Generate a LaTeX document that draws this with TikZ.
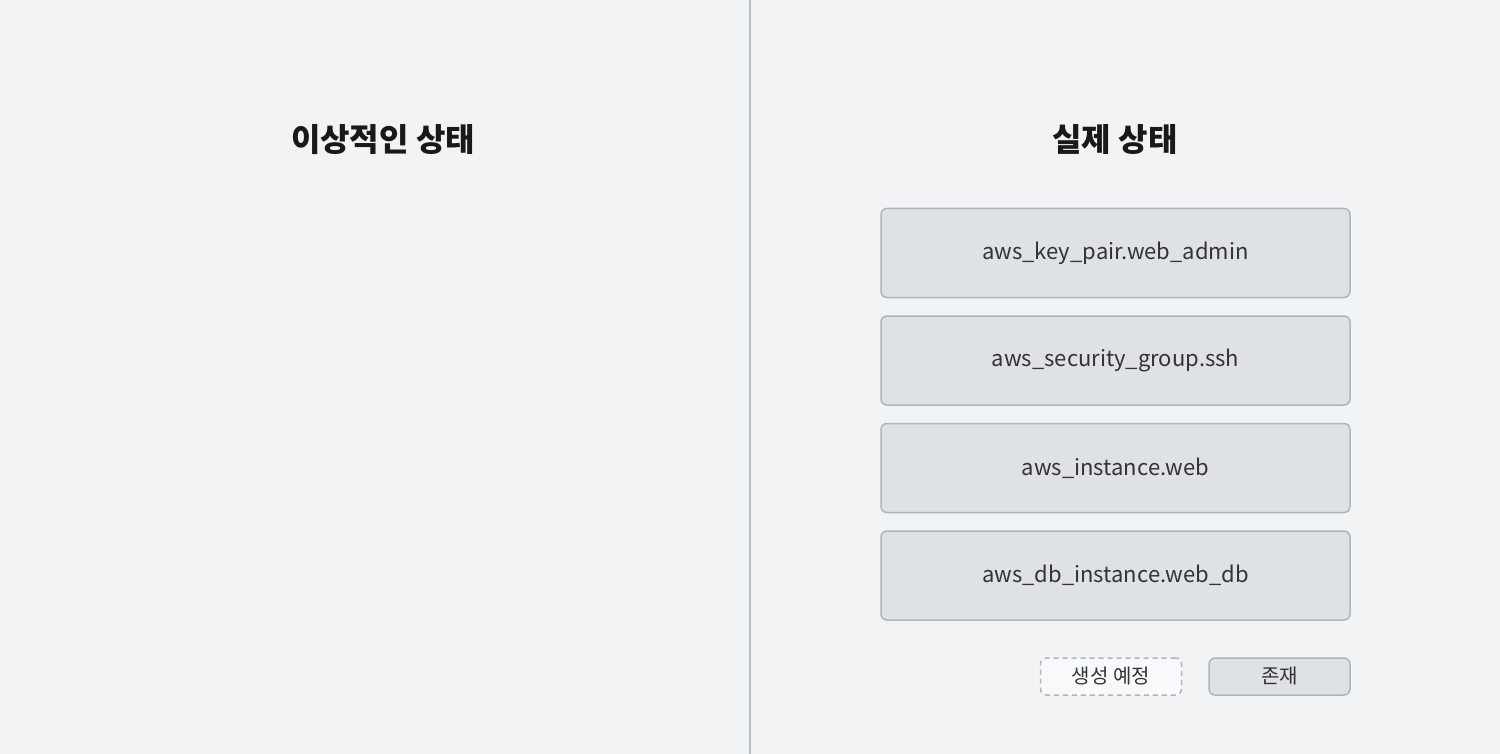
\documentclass[tikz,border=0pt]{standalone}
\usepackage{fontspec}
\setmainfont{Noto Sans CJK KR}
\usepackage{xcolor}
\usetikzlibrary{positioning}

\definecolor{bgcol}{HTML}{F2F3F5}
\definecolor{divcol}{HTML}{B5BCC4}
\definecolor{boxfill}{HTML}{DEE1E5}
\definecolor{boxline}{HTML}{AEB5BD}
\definecolor{planfill}{HTML}{F8F9FA}
\definecolor{txtcol}{HTML}{333333}

\tikzset{
  resbox/.style={draw=boxline, fill=boxfill, line width=1.5pt, rounded corners=6pt,
    minimum width=469pt, minimum height=89pt, inner sep=0pt, text=txtcol,
    font=\fontsize{22}{26}\selectfont},
  legbox/.style={draw=boxline, fill=boxfill, line width=1.5pt, rounded corners=6pt,
    minimum width=141pt, minimum height=37pt, inner sep=0pt, text=txtcol,
    font=\fontsize{20}{24}\selectfont},
  titletext/.style={font=\bfseries\fontsize{32}{38}\selectfont, text=black!90}
}

\begin{document}
\begin{tikzpicture}[x=1pt, y=-1pt]
\fill [bgcol] (0, 0) rectangle (1500, 754);
\useasboundingbox (0, 0) rectangle (1500, 754);
\draw [divcol, line width=2pt] (750, 0) -- (750, 754);
% titles
\node [titletext] (ideal) at (383, 140) {이상적인 상태};
\node [titletext] (actual) at (1115, 140) {실제 상태};
% resources
\node [resbox] (keypair) at (1115.5, 253) {aws\_key\_pair.web\_admin};
\node [resbox, below=17pt of keypair] (secgroup) {aws\_security\_group.ssh};
\node [resbox, below=17pt of secgroup] (instance) {aws\_instance.web};
\node [resbox, below=17pt of instance] (dbinst) {aws\_db\_instance.web\_db};
% legend
\node [legbox, fill=planfill, dashed, dash pattern=on 5pt off 4pt] (planned) at (1111, 676.5) {생성 예정};
\node [legbox] (exists) at (1279.5, 676.5) {존재};
\end{tikzpicture}
\end{document}
